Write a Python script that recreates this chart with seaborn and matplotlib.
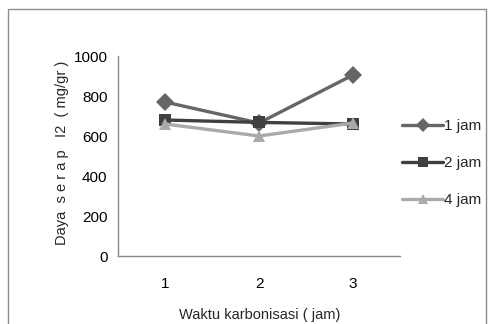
import matplotlib
matplotlib.use("Agg")
import matplotlib.pyplot as plt
import seaborn as sns
import pandas as pd
from matplotlib.patches import Rectangle

categories = [1, 2, 3]
series_names = ["1 jam", "2 jam", "4 jam"]
jam1 = [770, 665, 905]
jam2 = [680, 668, 660]
jam4 = [660, 600, 665]
yticks = [0, 200, 400, 600, 800, 1000]

df = pd.DataFrame({
    "x": categories * 3,
    "y": jam1 + jam2 + jam4,
    "series": [series_names[0]] * 3 + [series_names[1]] * 3 + [series_names[2]] * 3,
})

sns.set_style("white")
plt.rcParams["font.family"] = ["Liberation Sans", "DejaVu Sans"]

fig = plt.figure(figsize=(4.9, 3.24), dpi=100)
ax = fig.add_axes([118 / 490, 1 - 256 / 324, 282 / 490, 200 / 324])

palette = {"1 jam": "#666666", "2 jam": "#404040", "4 jam": "#aaaaaa"}
markers = {"1 jam": "D", "2 jam": "s", "4 jam": "^"}
sns.lineplot(data=df, x="x", y="y", hue="series", style="series",
             palette=palette, markers=markers, dashes=False,
             linewidth=2.4, markersize=9, markeredgewidth=0, ax=ax)

ax.set_xlim(0.5, 3.5)
ax.set_ylim(0, 1000)
ax.set_yticks(yticks)
ax.set_xticks(categories)
ax.set_xticks([0.5, 1.5, 2.5, 3.5], minor=True)
ax.tick_params(axis="both", which="both", direction="out", color="#888888",
               length=4, width=1, labelsize=11, colors="#000000")
ax.tick_params(axis="x", which="major", pad=11)
for s in ["top", "right"]:
    ax.spines[s].set_visible(False)
for s in ["left", "bottom"]:
    ax.spines[s].set_color("#888888")
    ax.spines[s].set_linewidth(1)

ax.set_xlabel("")
ax.set_ylabel("")
fig.text(62 / 490, 1 - 153 / 324, "Daya  s e r a p   I2  ( mg/gr )",
         rotation=90, ha="center", va="center", fontsize=10.5)
fig.text(260 / 490, 1 - 315 / 324, "Waktu karbonisasi ( jam)",
         ha="center", va="center", fontsize=10.5)

handles, labels = ax.get_legend_handles_labels()
ax.legend(handles, labels, loc="center left",
          bbox_to_anchor=(402 / 490, 1 - 163 / 324), bbox_transform=fig.transFigure,
          frameon=False, fontsize=11, handlelength=2.7, handletextpad=0.05,
          labelspacing=1.5, borderaxespad=0, borderpad=0, markerscale=0.8)

fig.patches.append(Rectangle((8 / 490, -0.05), 478 / 490, 1.05 - 9 / 324,
                             transform=fig.transFigure, fill=False,
                             edgecolor="#8c8c8c", linewidth=1))

fig.savefig("out.png", dpi=100)
